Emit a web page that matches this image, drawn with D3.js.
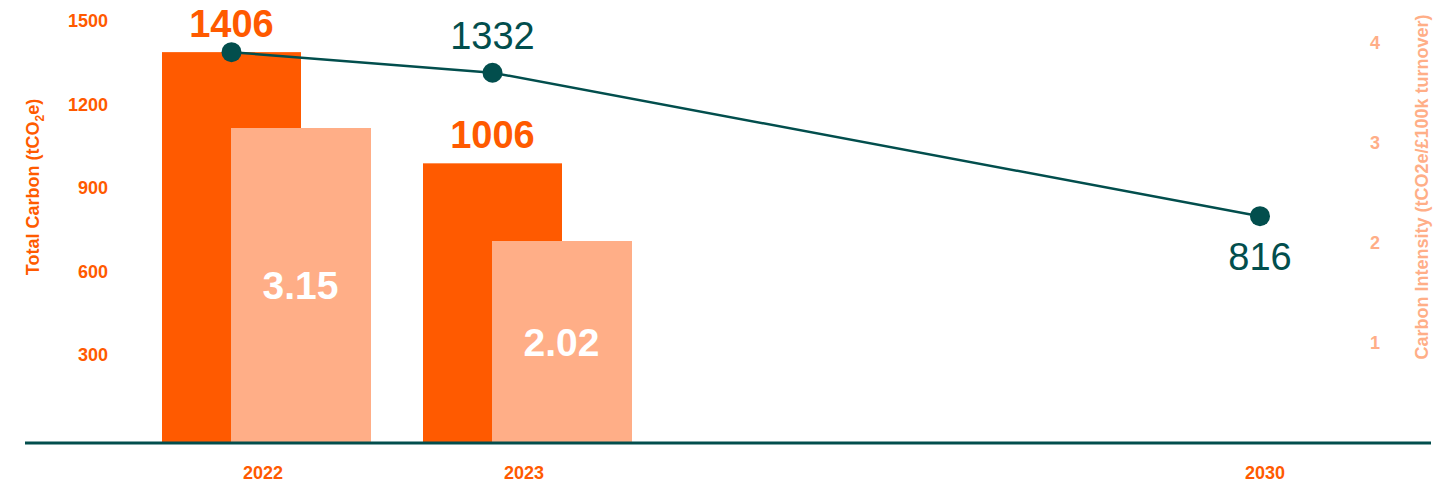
<!DOCTYPE html>
<html>
<head>
<meta charset="utf-8">
<script src="https://cdn.jsdelivr.net/npm/d3@7"></script>
<style>
  body { margin: 0; background: #fff; }
  svg text { font-family: "Liberation Sans", Arial, Helvetica, sans-serif; }
</style>
</head>
<body>
<div class="chart"></div>
<script>
// data
const years = [2022, 2023, 2030];
const barYears = [2022, 2023];
const totalCarbon = [1406, 1006];
const intensity = [3.15, 2.02];
const trajectory = [1406, 1332, 816];
const leftTicks = [300, 600, 900, 1200, 1500];
const rightTicks = [1, 2, 3, 4];

const orange = "#ff5a00",
  light = "#ffae87",
  teal = "#024e4d";

const width = 1455,
  height = 485;
const baseY = 443;

const svg = d3
  .select(".chart")
  .append("svg")
  .attr("width", width)
  .attr("height", height);

// x: years are categories but spaced unevenly
const x = d3.scaleLinear().domain(years).range([263, 524, 1265]);
const barW = 139;

const yLeft = d3.scaleLinear().domain([0, 1500]).range([baseY, 26]);
const yRight = d3.scaleLinear().domain([0, 4]).range([baseY, 43]);

// left axis labels
svg
  .append("g")
  .selectAll("text")
  .data(leftTicks)
  .join("text")
  .attr("x", 108)
  .attr("y", (d) => yLeft(d) - 5)
  .attr("dy", "0.35em")
  .attr("text-anchor", "end")
  .attr("font-size", 18)
  .attr("font-weight", "bold")
  .attr("fill", orange)
  .text((d) => d);

const lt = svg
  .append("text")
  .attr("transform", "translate(39,187) rotate(-90)")
  .attr("text-anchor", "middle")
  .attr("font-size", 18)
  .attr("font-weight", "bold")
  .attr("fill", orange);
lt.append("tspan").text("Total Carbon (tCO");
lt.append("tspan").attr("font-size", 12).attr("dy", 5).text("2");
lt.append("tspan").attr("dy", -5).text("e)");

// right axis labels
svg
  .append("g")
  .selectAll("text")
  .data(rightTicks)
  .join("text")
  .attr("x", 1375)
  .attr("y", (d) => yRight(d))
  .attr("dy", "0.35em")
  .attr("text-anchor", "middle")
  .attr("font-size", 18)
  .attr("font-weight", "bold")
  .attr("fill", light)
  .text((d) => d);

svg
  .append("text")
  .attr("transform", "translate(1428,187) rotate(-90)")
  .attr("text-anchor", "middle")
  .attr("font-size", 18)
  .attr("font-weight", "bold")
  .attr("fill", light)
  .text("Carbon Intensity (tCO2e/£100k turnover)");

// bars
svg
  .selectAll(".bar-total")
  .data(barYears)
  .join("rect")
  .attr("class", "bar-total")
  .attr("x", (d) => x(d) - 101)
  .attr("width", barW)
  .attr("y", (d, i) => yLeft(totalCarbon[i]))
  .attr("height", (d, i) => baseY - yLeft(totalCarbon[i]))
  .attr("fill", orange);

svg
  .selectAll(".bar-int")
  .data(barYears)
  .join("rect")
  .attr("class", "bar-int")
  .attr("x", (d) => x(d) - 32)
  .attr("width", barW + 1)
  .attr("y", (d, i) => yRight(intensity[i]))
  .attr("height", (d, i) => baseY - yRight(intensity[i]))
  .attr("fill", light);

// bar labels
svg
  .selectAll(".lab-total")
  .data(barYears)
  .join("text")
  .attr("class", "lab-total")
  .attr("x", (d) => x(d) - 101 + barW / 2)
  .attr("y", (d, i) => yLeft(totalCarbon[i]) - 15)
  .attr("text-anchor", "middle")
  .attr("font-size", 38)
  .attr("font-weight", "bold")
  .attr("fill", orange)
  .text((d, i) => totalCarbon[i]);

svg
  .selectAll(".lab-int")
  .data(barYears)
  .join("text")
  .attr("class", "lab-int")
  .attr("x", (d) => x(d) - 32 + barW / 2)
  .attr("y", (d, i) => (yRight(intensity[i]) + baseY) / 2)
  .attr("dy", "0.35em")
  .attr("text-anchor", "middle")
  .attr("font-size", 39)
  .attr("font-weight", "bold")
  .attr("fill", "#fff")
  .text((d, i) => intensity[i].toFixed(2));

// baseline
svg
  .append("line")
  .attr("x1", 25)
  .attr("x2", 1431)
  .attr("y1", baseY)
  .attr("y2", baseY)
  .attr("stroke", teal)
  .attr("stroke-width", 3);

// year labels
svg
  .selectAll(".year")
  .data(years)
  .join("text")
  .attr("class", "year")
  .attr("x", (d) => x(d))
  .attr("y", 479)
  .attr("text-anchor", "middle")
  .attr("font-size", 18)
  .attr("font-weight", "bold")
  .attr("fill", orange)
  .text((d) => d);

// trajectory line, dots sit on the total carbon bar centres
const lineX = (d) => (d === 2030 ? x(d) - 5 : x(d) - 101 + barW / 2);
const pts = years.map((d, i) => [lineX(d), yLeft(trajectory[i])]);

svg
  .append("path")
  .datum(pts)
  .attr("d", d3.line())
  .attr("fill", "none")
  .attr("stroke", teal)
  .attr("stroke-width", 2.5);

svg
  .selectAll(".dot")
  .data(pts)
  .join("circle")
  .attr("class", "dot")
  .attr("cx", (d) => d[0])
  .attr("cy", (d) => d[1])
  .attr("r", 10)
  .attr("fill", teal);

// line labels (2022 shares the bar label)
svg
  .selectAll(".lab-line")
  .data(years.slice(1))
  .join("text")
  .attr("class", "lab-line")
  .attr("x", (d) => lineX(d))
  .attr("y", (d) => {
    const v = trajectory[years.indexOf(d)];
    return d === 2030 ? yLeft(v) + 54 : yLeft(v) - 24;
  })
  .attr("text-anchor", "middle")
  .attr("font-size", 38)
  .attr("fill", teal)
  .text((d) => trajectory[years.indexOf(d)]);
</script>
</body>
</html>
